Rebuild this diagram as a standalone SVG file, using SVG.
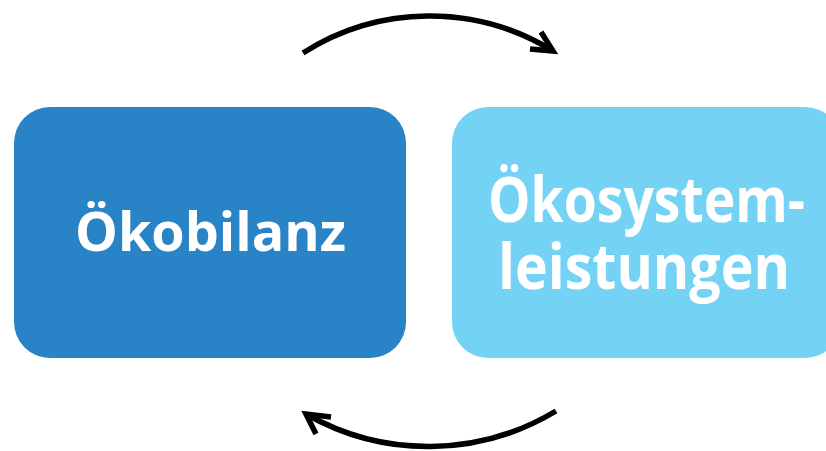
<svg xmlns="http://www.w3.org/2000/svg" width="826" height="451" viewBox="0 0 826 451">
<style>
.lbl{font-family:"Open Sans","Liberation Sans",sans-serif;font-weight:700;fill:#FFFFFF;text-anchor:middle}
.conn{fill:none;stroke:#000000;stroke-width:5.5;stroke-linejoin:miter;stroke-linecap:butt}
</style>
<rect width="826" height="451" fill="#FFFFFF"/>
<g id="node-oekobilanz">
<rect x="14" y="107" width="392" height="251" rx="36" ry="36" fill="#2983C7"/>
<text class="lbl" x="210.5" y="251" font-size="54" textLength="271" lengthAdjust="spacingAndGlyphs">Ökobilanz</text>
</g>
<g id="node-oekosystemleistungen">
<rect x="452" y="107" width="389" height="251" rx="36" ry="36" fill="#74D3F5"/>
<text class="lbl" x="646.5" y="222" font-size="62" textLength="317" lengthAdjust="spacingAndGlyphs">Ökosystem-</text>
<text class="lbl" x="644" y="289" font-size="62" textLength="292" lengthAdjust="spacingAndGlyphs">leistungen</text>
</g>
<g id="connectors">
<path class="conn" d="M303,53 A235,235 0 0 1 553,51"/>
<polyline class="conn" points="541,32 553,51 530,49"/>
<path class="conn" d="M556,411 A247,247 0 0 1 306,414"/>
<polyline class="conn" points="331,417 306,414 316,434"/>
</g>
</svg>
